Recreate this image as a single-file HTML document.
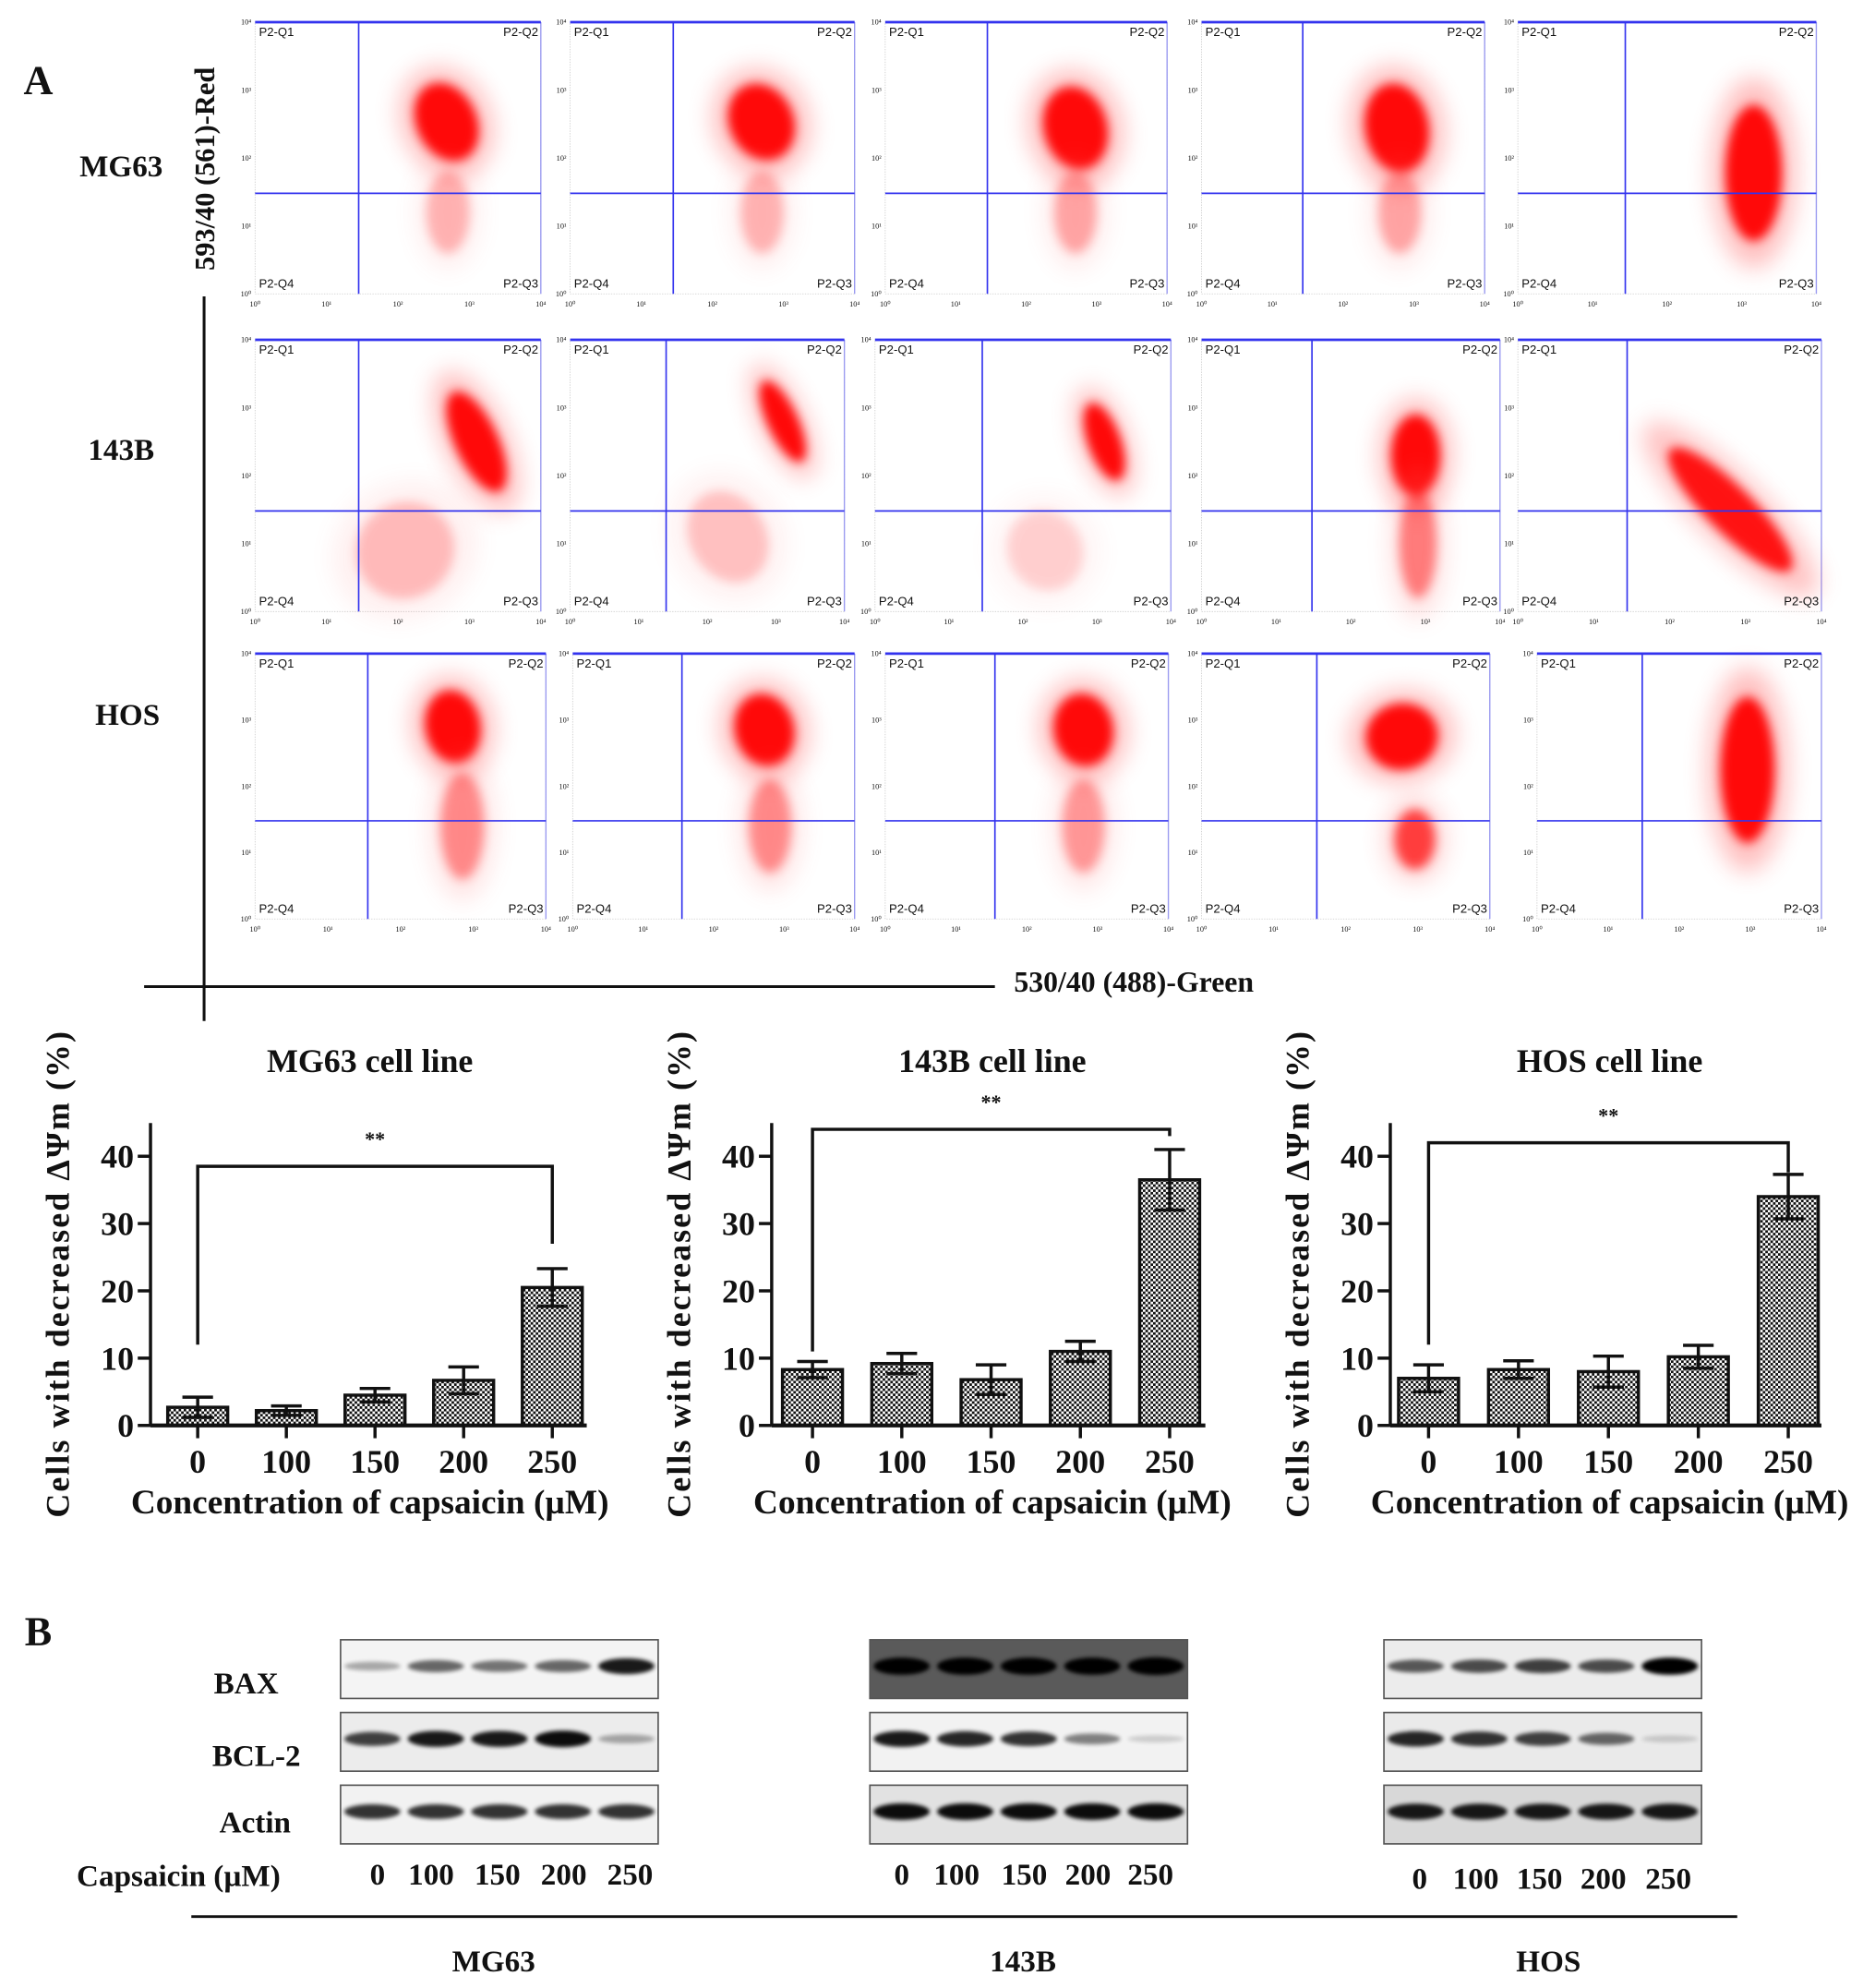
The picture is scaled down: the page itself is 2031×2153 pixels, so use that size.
<!DOCTYPE html>
<html><head><meta charset="utf-8"><style>
html,body{margin:0;padding:0;background:#fff;}
svg text{font-family:"Liberation Serif",serif;font-weight:bold;fill:#111;}
</style></head><body>
<svg id="root" xmlns="http://www.w3.org/2000/svg" width="2031" height="2148" viewBox="0 0 1470 1554">
<defs>
<pattern id="chk" width="4" height="4" patternUnits="userSpaceOnUse">
<rect width="4" height="4" fill="#fff"/><rect width="2" height="2" fill="#111"/><rect x="2" y="2" width="2" height="2" fill="#111"/>
</pattern>
<filter id="blur3" x="-50%" y="-50%" width="200%" height="200%"><feGaussianBlur stdDeviation="4"/></filter>
<filter id="blur8" x="-50%" y="-50%" width="200%" height="200%"><feGaussianBlur stdDeviation="9"/></filter>
<filter id="bband" x="-20%" y="-100%" width="140%" height="300%"><feGaussianBlur stdDeviation="1.6"/></filter>
</defs>
<g id="flow"></g>
<g id="bars"></g>
<g id="blots"></g>
</svg>
<script>
const NS="http://www.w3.org/2000/svg";
function mk(tag,attrs,parent,txt){const e=document.createElementNS(NS,tag);for(const k in attrs)e.setAttribute(k,attrs[k]);if(txt!==undefined)e.textContent=txt;parent.appendChild(e);return e;}
const root=document.getElementById('root');

// ---------- Flow cytometry data ----------
const flowRowTop=[17,266,512];
const flowRowBottom=[230,479,720];
const flowColLeft=[[200,447,694,942,1190],[200,447,686,942,1190],[200,449,694,942,1205]];
const flowColRight=[[424,670,915,1164,1424],[424,662,918,1176,1428],[428,670,916,1168,1428]];
const gateX=[[1.45,1.45,1.45,1.43,1.44],[1.45,1.4,1.45,1.48,1.44],[1.55,1.55,1.55,1.6,1.48]]; // decades
const gateY=[1.48,1.48,1.48]; // decades
// clusters: [cx, cy, rx, ry, rot, opacity] in decades
const flowClusters=[
 [[[2.68,2.53,0.42,0.6,-25,0.95],[2.7,1.2,0.3,0.6,0,0.25]],[[2.69,2.53,0.45,0.58,-25,0.95],[2.7,1.2,0.3,0.6,0,0.25]],[[2.7,2.44,0.45,0.62,-15,0.95],[2.7,1.2,0.3,0.6,0,0.3]],[[2.76,2.44,0.45,0.66,-10,0.95],[2.8,1.2,0.3,0.6,0,0.3]],[[3.16,1.78,0.38,1.0,0,0.95]]],
 [[[3.1,2.5,0.3,0.8,-25,0.95],[2.1,0.9,0.7,0.7,-35,0.22]],[[3.1,2.8,0.22,0.65,-25,0.95],[2.3,1.1,0.55,0.7,-30,0.2]],[[3.1,2.5,0.22,0.6,-20,0.95],[2.3,0.9,0.5,0.6,-30,0.15]],[[2.87,2.3,0.33,0.6,0,0.95],[2.9,1.0,0.25,0.8,0,0.45]],[[2.8,1.5,0.3,1.25,-45,0.9]]],
 [[[2.72,2.9,0.38,0.55,-10,0.95],[2.85,1.4,0.3,0.8,0,0.4]],[[2.72,2.85,0.42,0.55,-15,0.95],[2.8,1.4,0.3,0.7,0,0.4]],[[2.8,2.85,0.42,0.55,-10,0.95],[2.8,1.4,0.3,0.7,0,0.35]],[[2.78,2.75,0.5,0.5,-10,0.95],[2.96,1.2,0.28,0.45,0,0.7]],[[2.96,2.25,0.38,1.1,0,0.95]]]
];
const decadeLabels=['10⁰','10¹','10²','10³','10⁴'];
const flow=document.getElementById('flow');
for(let r=0;r<3;r++){
 for(let c=0;c<5;c++){
  const L=flowColLeft[r][c],R=flowColRight[r][c],T=flowRowTop[r],B=flowRowBottom[r];
  const xs=d=>L+(R-L)*d/4, ys=d=>B-(B-T)*d/4;
  const g=mk('g',{},flow);
  
  
  mk('rect',{x:L,y:T,width:R-L,height:B-T,fill:'#fff',stroke:'#ccc','stroke-width':0.6,'stroke-dasharray':'1,1'},g);
  mk('line',{x1:R,y1:T,x2:R,y2:B,stroke:'#9a9af0','stroke-width':1},g);
  for(const cl of flowClusters[r][c]){
   const [cx,cy,rx,ry,rot,op]=cl;
   const X=xs(cx),Y=ys(cy),RX=rx*(R-L)/4,RY=ry*(B-T)/4;
   mk('ellipse',{cx:X,cy:Y,rx:RX*1.5,ry:RY*1.4,fill:'#ff6a6a',opacity:0.45*op,filter:'url(#blur8)',transform:`rotate(${rot} ${X} ${Y})`},g);
   const e=mk('ellipse',{cx:X,cy:Y,rx:RX,ry:RY,fill:'#ff0000',opacity:op,filter:'url(#blur3)',transform:`rotate(${rot} ${X} ${Y})`},g);
   
   
  }
  mk('line',{x1:L,y1:T,x2:R,y2:T,stroke:'#3333ee','stroke-width':2},g);
  mk('line',{x1:xs(gateX[r][c]),y1:T,x2:xs(gateX[r][c]),y2:B,stroke:'#3333ee','stroke-width':1.2},g);
  mk('line',{x1:L,y1:ys(gateY[r]),x2:R,y2:ys(gateY[r]),stroke:'#3333ee','stroke-width':1.2},g);
  const lab=(t,x,y,a)=>{const e=mk('text',{x,y,'font-size':9.5,'text-anchor':a,style:'font-family:"Liberation Sans",sans-serif;font-weight:normal'},g,t);};
  lab('P2-Q1',L+3,T+11,'start');lab('P2-Q2',R-2,T+11,'end');lab('P2-Q4',L+3,B-5,'start');lab('P2-Q3',R-2,B-5,'end');
  for(let d=0;d<=4;d++){
   mk('text',{x:xs(d),y:B+10,'font-size':6,'text-anchor':'middle',style:'font-weight:normal'},g,decadeLabels[d]);
   mk('text',{x:L-3,y:ys(d)+2,'font-size':6,'text-anchor':'end',style:'font-weight:normal'},g,decadeLabels[d]);
  }
 }
}
function T(t,x,y,size,name,anchor,extra){const e=mk('text',Object.assign({x,y,'font-size':size,'text-anchor':anchor||'middle'},extra||{}),root,t);return e;}
T('A',30,73,32,'panel-label-a');
T('MG63',95,138,24,'row-label-mg63');
T('143B',95,360,24,'row-label-143b');
T('HOS',100,568,24,'row-label-hos');
T('593/40 (561)-Red',168,132,22,'flow-y-axis-title','middle',{transform:'rotate(-90 168 132)'});
T('530/40 (488)-Green',795,777,23,'flow-x-axis-title','start');
mk('line',{x1:160,y1:232,x2:160,y2:800,stroke:'#111','stroke-width':2.2},root);
mk('line',{x1:113,y1:773,x2:780,y2:773,stroke:'#111','stroke-width':2.2},root);

// ---------- Bar chart data ----------
const barCategories=['0','100','150','200','250'];
const yTicks=[0,10,20,30,40];
const mg63Values=[2.7,2.2,4.5,6.7,20.5];
const mg63Errors=[1.5,0.7,1.0,2.0,2.8];
const b143Values=[8.3,9.2,6.8,11.0,36.5];
const b143Errors=[1.2,1.5,2.2,1.5,4.5];
const hosValues=[7.0,8.3,8.0,10.2,34.0];
const hosErrors=[2.0,1.3,2.3,1.7,3.3];
const chartTitles=['MG63 cell line','143B cell line','HOS cell line'];
const chartSeries=[mg63Values,b143Values,hosValues];
const chartErrors=[mg63Errors,b143Errors,hosErrors];
const bracketLevel=[38.5,44,42];
const bracketLeftEnd=[12,11,12];
const bracketRightEnd=[27,43,37.6];
const charts=[{ax:118,x0:155,step:69.5,xe:460,tc:290},{ax:605,x0:637,step:70,xe:945,tc:778},{ax:1090,x0:1120,step:70.5,xe:1428,tc:1262}];
const bars=document.getElementById('bars');
const Y0=1117,Ytop=906;
const ys=v=>Y0-(Y0-Ytop)*v/40;
charts.forEach((ch,i)=>{
 const g=mk('g',{},bars);
 
 
 const xs=k=>ch.x0+ch.step*k;
 const bw=47;
 chartSeries[i].forEach((v,k)=>{
  const b=mk('rect',{x:xs(k)-bw/2,y:ys(v),width:bw,height:Y0-ys(v),fill:'url(#chk)',stroke:'#111','stroke-width':2.5},g);
  
  
  const e=chartErrors[i][k];
  const eb=mk('path',{d:`M${xs(k)},${ys(v-e)}V${ys(v+e)}M${xs(k)-12},${ys(v+e)}H${xs(k)+12}M${xs(k)-12},${ys(v-e)}H${xs(k)+12}`,stroke:'#111','stroke-width':2.5,fill:'none'},g);
  
  
  mk('line',{x1:xs(k),y1:Y0,x2:xs(k),y2:Y0+10,stroke:'#111','stroke-width':2.5},g);
  mk('text',{x:xs(k),y:Y0+37,'font-size':26,'text-anchor':'middle'},g,barCategories[k]);
 });
 mk('line',{x1:ch.ax,y1:880,x2:ch.ax,y2:Y0,stroke:'#111','stroke-width':2.5},g);
 mk('line',{x1:ch.ax,y1:Y0,x2:ch.xe,y2:Y0,stroke:'#111','stroke-width':3},g);
 yTicks.forEach(t=>{
  mk('line',{x1:ch.ax-10,y1:ys(t),x2:ch.ax,y2:ys(t),stroke:'#111','stroke-width':2.5},g);
  mk('text',{x:ch.ax-13,y:ys(t)+9,'font-size':26,'text-anchor':'end'},g,String(t));
 });
 const bl=ys(bracketLevel[i]);
 const br=mk('path',{d:`M${xs(0)},${ys(bracketLeftEnd[i])}V${bl}H${xs(4)}V${ys(bracketRightEnd[i])}`,stroke:'#111','stroke-width':2.5,fill:'none'},g);
 
 
 mk('text',{x:(xs(0)+xs(4))/2,y:bl-16,'font-size':16,'text-anchor':'middle',fill:'#444'},g,'**');
 mk('text',{x:ch.tc,y:840,'font-size':26,'text-anchor':'middle'},g,chartTitles[i]);
 mk('text',{x:ch.tc,y:1186,'font-size':27,'text-anchor':'middle'},g,'Concentration of capsaicin (µM)');
 const yx=ch.ax-64;
 mk('text',{x:yx,y:998,'font-size':26,'text-anchor':'middle',transform:`rotate(-90 ${yx} 998)`,style:'letter-spacing:1.5px'},g,'Cells with decreased  ΔΨm (%)');
});

// ---------- Western blot data ----------
const blotRows=['BAX','BCL-2','Actin'];
const blotDoses=['0','100','150','200','250'];
const mg63Bands=[[0.3,0.55,0.5,0.55,0.85],[0.7,0.85,0.85,0.9,0.3],[0.75,0.75,0.75,0.75,0.75]];
const b143Bands=[[0.95,0.95,0.95,0.95,1.0],[0.85,0.8,0.75,0.45,0.15],[0.9,0.9,0.9,0.9,0.9]];
const hosBands=[[0.6,0.65,0.7,0.65,0.95],[0.8,0.75,0.7,0.55,0.15],[0.85,0.85,0.85,0.85,0.85]];
const blotBg=[['#f4f4f4','#ececec','#f2f2f2'],['#5a5a5a','#f2f2f2','#e2e2e2'],['#ececec','#eaeaea','#d8d8d8']];
const blotSets=[mg63Bands,b143Bands,hosBands];
const blotLeft=[267,682,1085];
const blotW=249;
const blotTop=[1285,1342,1399];
const blotH=46;
const doseX=[[296,338,390,442,494],[707,750,803,853,902],[1113,1157,1207,1257,1308]];
const blotNames=['MG63','143B','HOS'];
const blots=document.getElementById('blots');
blotSets.forEach((set,i)=>{
 const g=mk('g',{},blots);
 
 
 set.forEach((row,r)=>{
  const y=blotTop[r];
  const box=mk('rect',{x:blotLeft[i],y,width:blotW,height:blotH,fill:blotBg[i][r],stroke:'#555','stroke-width':1.2},g);
  
  
  row.forEach((v,k)=>{
   const cx=blotLeft[i]+blotW*(k+0.5)/5;
   const b=mk('ellipse',{cx,cy:y+blotH*0.45,rx:22,ry:2+5*v,fill:'#000',opacity:Math.min(1,v*1.05),filter:'url(#bband)'},g);
   
   
  });
 });
 blotDoses.forEach((d,k)=>mk('text',{x:doseX[i][k],y:i==2?1480:1477,'font-size':24,'text-anchor':'middle'},g,d));
 mk('text',{x:[387,802,1214][i],y:1545,'font-size':24,'text-anchor':'middle'},g,blotNames[i]);
});
T('B',30,1289,32,'panel-label-b');
T('BAX',193,1327,24,'label-bax');
T('BCL-2',201,1384,24,'label-bcl2');
T('Actin',200,1436,24,'label-actin');
T('Capsaicin (µM)',140,1478,24,'label-capsaicin');
mk('line',{x1:150,y1:1502,x2:1362,y2:1502,stroke:'#111','stroke-width':2},root);
</script>
</body></html>
